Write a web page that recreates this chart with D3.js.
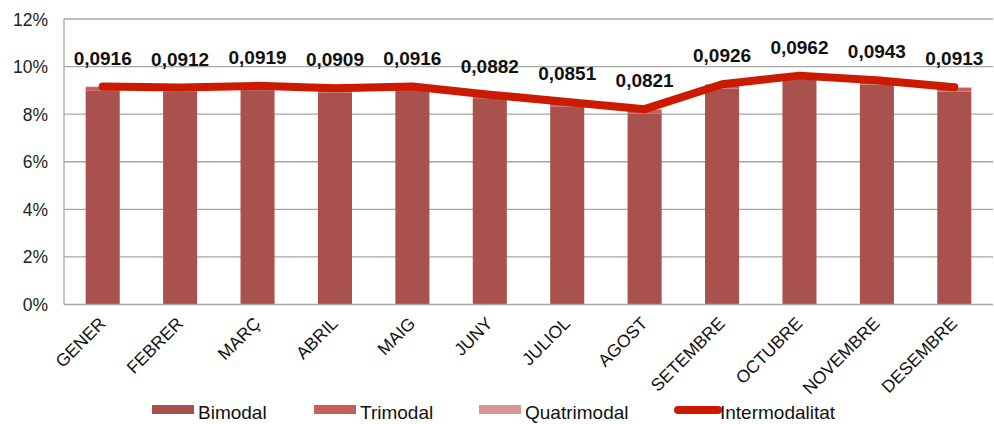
<!DOCTYPE html>
<html><head><meta charset="utf-8">
<script src="https://cdn.jsdelivr.net/npm/d3@7"></script>
<style>body{margin:0;background:#fff}svg{display:block;font-family:"Liberation Sans",Arial,sans-serif}</style>
</head><body><svg id="c" width="994" height="424"></svg>
<script>
const months = ["GENER","FEBRER","MARÇ","ABRIL","MAIG","JUNY","JULIOL","AGOST","SETEMBRE","OCTUBRE","NOVEMBRE","DESEMBRE"];
const bimodal = [0.0898,0.0894,0.0901,0.0891,0.0898,0.0864,0.0833,0.0803,0.0908,0.0944,0.0925,0.0895];
const trimodal = [0.0016,0.0016,0.0016,0.0016,0.0016,0.0016,0.0016,0.0016,0.0016,0.0016,0.0016,0.0016];
const quatrimodal = [0.0002,0.0002,0.0002,0.0002,0.0002,0.0002,0.0002,0.0002,0.0002,0.0002,0.0002,0.0002];
const intermodalitat = [0.0916,0.0912,0.0919,0.0909,0.0916,0.0882,0.0851,0.0821,0.0926,0.0962,0.0943,0.0913];
const yTicks = [0,0.02,0.04,0.06,0.08,0.10,0.12];
const seriesNames = ["Bimodal","Trimodal","Quatrimodal"];
const colors = ["#A9524D","#C65F5A","#D99594"];
const lineColor = "#CC1A00";

const svg = d3.select("#c");
const L=64,R=993,T=19,B=304.5;
const x = d3.scaleBand().domain(months).range([L,R]).paddingInner(0.56).paddingOuter(0.28);
const y = d3.scaleLinear().domain([0,0.12]).range([B,T]);

// grid
svg.append("g").selectAll("line").data(yTicks.slice(1)).join("line")
  .attr("x1",L).attr("x2",R).attr("y1",d=>y(d)).attr("y2",d=>y(d))
  .attr("stroke","#A6A6A6").attr("stroke-width",1.3);

// y labels
svg.append("g").selectAll("text").data(yTicks).join("text")
  .attr("x",L-16).attr("y",d=>y(d)+6.5).attr("text-anchor","end")
  .attr("font-size",17.5).attr("fill","#222").text(d=>Math.round(d*100)+"%");

// bars
const rows = months.map((m,i)=>({m,Bimodal:bimodal[i],Trimodal:trimodal[i],Quatrimodal:quatrimodal[i]}));
const stack = d3.stack().keys(seriesNames)(rows);
svg.append("g").selectAll("g").data(stack).join("g").attr("fill",(d,i)=>colors[i])
  .selectAll("rect").data(d=>d).join("rect")
  .attr("x",d=>x(d.data.m)).attr("width",x.bandwidth())
  .attr("y",d=>y(d[1])).attr("height",d=>y(d[0])-y(d[1]));

// axes lines
svg.append("line").attr("x1",L).attr("x2",L).attr("y1",T).attr("y2",B).attr("stroke","#A6A6A6").attr("stroke-width",1.3);
svg.append("line").attr("x1",L).attr("x2",R).attr("y1",B).attr("y2",B).attr("stroke","#A6A6A6").attr("stroke-width",1.3);

// x labels
svg.append("g").selectAll("text").data(months).join("text")
  .attr("transform",d=>`translate(${x(d)+x.bandwidth()/2+4},${B+20}) rotate(-45)`)
  .attr("text-anchor","end").attr("font-size",17.5).attr("fill","#111").text(d=>d);

// line
const cx = d=>x(d)+x.bandwidth()/2;
svg.append("path").datum(intermodalitat)
  .attr("d",d3.line().x((d,i)=>cx(months[i])).y(d=>y(d)))
  .attr("fill","none").attr("stroke",lineColor).attr("stroke-width",8).attr("stroke-linecap","round").attr("stroke-linejoin","round");

// labels
svg.append("g").selectAll("text").data(intermodalitat).join("text")
  .attr("x",(d,i)=>cx(months[i])).attr("y",d=>y(d)-22)
  .attr("text-anchor","middle").attr("font-size",19).attr("font-weight","bold").attr("fill","#111")
  .text(d=>d.toFixed(4).replace(".",","));

// legend
const lg = svg.append("g");
const legendItems = [
  {name:"Bimodal",type:"rect",c:colors[0],x:152},
  {name:"Trimodal",type:"rect",c:colors[1],x:314},
  {name:"Quatrimodal",type:"rect",c:colors[2],x:479},
  {name:"Intermodalitat",type:"line",c:lineColor,x:674}
];
legendItems.forEach(it=>{
  if(it.type==="rect"){
    lg.append("rect").attr("x",it.x).attr("y",405).attr("width",42).attr("height",9).attr("fill",it.c);
  } else {
    lg.append("line").attr("x1",it.x+4).attr("x2",it.x+44).attr("y1",410).attr("y2",410)
      .attr("stroke",it.c).attr("stroke-width",8).attr("stroke-linecap","round");
  }
  lg.append("text").attr("x",it.x+46).attr("y",419)
    .attr("font-size",19).attr("fill","#111").text(it.name);
});
</script></body></html>
